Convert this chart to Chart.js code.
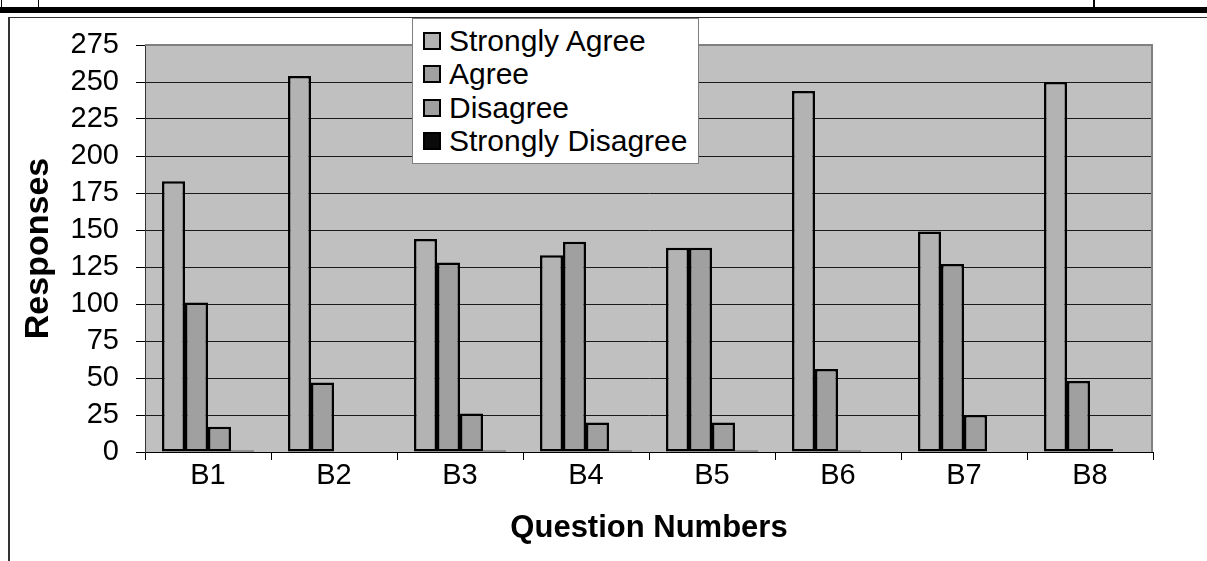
<!DOCTYPE html>
<html><head><meta charset="utf-8">
<script src="https://cdn.jsdelivr.net/npm/chart.js@4"></script>
<style>
html,body{margin:0;padding:0;background:#fff;}
#wrap{position:relative;width:1207px;height:561px;overflow:hidden;font-family:'Liberation Sans',Arial,sans-serif;}
canvas{position:absolute;left:0;top:0;}
.ln{position:absolute;background:#000;}
#legend{position:absolute;left:412px;top:18px;width:287px;height:146px;box-sizing:border-box;background:#fff;border:1px solid #7f7f7f;padding-top:5px;}
.item{height:33.5px;display:flex;align-items:center;font-size:30px;color:#000;white-space:nowrap;}
.sw{width:14px;height:14px;border:2px solid #000;margin-left:10px;margin-right:8px;flex:none;}
</style>
</head><body>
<div id="wrap">
  <canvas id="c" width="1207" height="561"></canvas>
  <div class="ln" style="left:1px;top:0;width:1px;height:8px;"></div>
  <div class="ln" style="left:38px;top:0;width:1px;height:8px;"></div>
  <div class="ln" style="left:1093px;top:0;width:2px;height:8px;"></div>
  <div class="ln" style="left:0;top:7px;width:1207px;height:6px;"></div>
  <div class="ln" style="left:8px;top:17px;width:1199px;height:1px;background:#333;"></div>
  <div class="ln" style="left:8px;top:17px;width:2px;height:544px;background:#333;"></div>
  <div id="legend"></div>
</div>
<script>
const categories = ['B1','B2','B3','B4','B5','B6','B7','B8'];
const stronglyAgree    = [183, 254, 144, 133, 138, 244, 149, 250];
const agree            = [101,  47, 128, 142, 138,  56, 127,  48];
const disagree         = [ 17,   0,  26,  20,  20,   1,  25,   2];
const stronglyDisagree = [  1,   0,   1,   1,   1,   0,   0,   0];
const seriesLabels = ['Strongly Agree','Agree','Disagree','Strongly Disagree'];
const seriesColors = ['#B3B3B3','#A0A0A0','#A0A0A0','#0A0A0A'];
const yMin = 0, yMax = 275, yStep = 25;
const xTitle = 'Question Numbers';
const yTitle = 'Responses';

const FONT = "'Liberation Sans', Arial, sans-serif";
const seriesData = [stronglyAgree, agree, disagree, stronglyDisagree];

const plotBg = {
  id: 'plotBg',
  beforeDraw(chart) {
    const {ctx, chartArea: a} = chart;
    ctx.save();
    ctx.fillStyle = '#C0C0C0';
    ctx.fillRect(a.left, a.top, a.right - a.left, a.bottom - a.top);
    ctx.restore();
  },
  beforeDatasetsDraw(chart) {
    const {ctx, chartArea: a} = chart;
    ctx.save();
    ctx.strokeStyle = '#808080';
    ctx.lineWidth = 2;
    ctx.beginPath();
    ctx.moveTo(a.left, a.top);
    ctx.lineTo(a.right - 1, a.top);
    ctx.lineTo(a.right - 1, a.bottom);
    ctx.stroke();
    ctx.restore();
  }
};

const chart = new Chart(document.getElementById('c'), {
  type: 'bar',
  data: {
    labels: categories,
    datasets: seriesLabels.map((lab, i) => ({
      label: lab,
      data: seriesData[i],
      backgroundColor: seriesColors[i],
      borderColor: '#000',
      borderWidth: 2.5,
      borderSkipped: false,
      categoryPercentage: 0.73,
      barPercentage: 1.0
    }))
  },
  options: {
    responsive: false,
    animation: false,
    devicePixelRatio: 1,
    layout: { padding: { left: 16, right: 54, top: 45, bottom: 10 } },
    plugins: { legend: { display: false }, tooltip: { enabled: false } },
    scales: {
      x: {
        grid: { offset: true, drawOnChartArea: false, drawTicks: true, tickLength: 8, color: '#000', lineWidth: 1 },
        border: { display: true, color: '#000', width: 1 },
        ticks: { color: '#000', font: { family: FONT, size: 29 }, padding: -1, maxRotation: 0, autoSkip: false },
        title: { display: true, text: xTitle, color: '#000', font: { family: FONT, size: 31, weight: 'bold' }, padding: { top: 4, bottom: 4 } },
        afterFit(s) { s.height = 99; }
      },
      y: {
        min: yMin, max: yMax,
        grid: { drawOnChartArea: true, drawTicks: true, tickLength: 9, color: '#1a1a1a', tickColor: '#000', lineWidth: 1 },
        border: { display: true, color: '#333', width: 1 },
        ticks: { stepSize: yStep, color: '#000', font: { family: FONT, size: 29 }, padding: 17, autoSkip: false },
        title: { display: true, text: yTitle, color: '#000', font: { family: FONT, size: 34, weight: 'bold' }, padding: { top: 2, bottom: 2 } },
        afterFit(s) { s.width = 129; }
      }
    }
  },
  plugins: [plotBg]
});

const leg = document.getElementById('legend');
chart.data.datasets.forEach(ds => {
  const it = document.createElement('div');
  it.className = 'item';
  const sw = document.createElement('span');
  sw.className = 'sw';
  sw.style.background = ds.backgroundColor;
  const tx = document.createElement('span');
  tx.textContent = ds.label;
  it.appendChild(sw); it.appendChild(tx);
  leg.appendChild(it);
});
</script>
</body></html>
